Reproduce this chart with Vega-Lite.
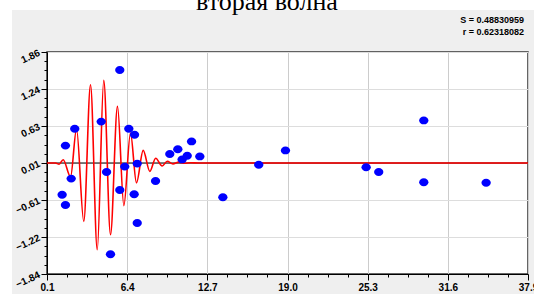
{
  "$schema": "https://vega.github.io/schema/vega-lite/v6.json",
  "width": 481,
  "height": 222,
  "autosize": {"type": "none"},
  "padding": {"left": 47, "top": 52, "right": 6, "bottom": 20},
  "background": "#efefef",
  "config": {
    "view": {"fill": "white", "stroke": "#333333", "strokeWidth": 1.5}
  },
  "resolve": {"axis": {"x": "independent", "y": "independent"}},
  "datasets": {
    "curve": [
      {"x": 0.1, "y": 0.01}, {"x": 0.77, "y": 0.01}, {"x": 1.05, "y": -0.01},
      {"x": 1.37, "y": 0.065}, {"x": 1.95, "y": -0.22}, {"x": 2.42, "y": 0.577},
      {"x": 2.99, "y": -0.963}, {"x": 3.52, "y": 1.315}, {"x": 4.05, "y": -1.435},
      {"x": 4.56, "y": 1.387}, {"x": 5.09, "y": -1.185}, {"x": 5.64, "y": 0.953},
      {"x": 6.14, "y": -0.7}, {"x": 6.66, "y": 0.51}, {"x": 7.13, "y": -0.32},
      {"x": 7.66, "y": 0.22}, {"x": 8.18, "y": -0.13}, {"x": 8.64, "y": 0.09},
      {"x": 9.15, "y": -0.04}, {"x": 9.55, "y": 0.04}, {"x": 10.0, "y": -0.005},
      {"x": 10.45, "y": 0.025}, {"x": 10.9, "y": 0.005}, {"x": 11.4, "y": 0.015},
      {"x": 12.0, "y": 0.01}, {"x": 37.9, "y": 0.01}
    ],
    "points": [
      {"x": 1.29, "y": -0.52}, {"x": 1.55, "y": -0.69}, {"x": 1.55, "y": 0.3},
      {"x": 2.0, "y": -0.25}, {"x": 2.28, "y": 0.58}, {"x": 4.36, "y": 0.7},
      {"x": 4.78, "y": -0.14}, {"x": 5.09, "y": -1.51}, {"x": 5.82, "y": 1.56},
      {"x": 5.82, "y": -0.44}, {"x": 6.21, "y": -0.05}, {"x": 6.53, "y": 0.58},
      {"x": 6.98, "y": 0.48}, {"x": 6.95, "y": -0.51}, {"x": 7.19, "y": 0.0},
      {"x": 7.19, "y": -0.99}, {"x": 8.63, "y": -0.29}, {"x": 9.75, "y": 0.16},
      {"x": 10.38, "y": 0.24}, {"x": 10.72, "y": 0.07}, {"x": 11.12, "y": 0.13},
      {"x": 11.46, "y": 0.37}, {"x": 12.11, "y": 0.12}, {"x": 13.92, "y": -0.56},
      {"x": 16.74, "y": -0.02}, {"x": 18.84, "y": 0.22}, {"x": 25.18, "y": -0.06},
      {"x": 26.17, "y": -0.14}, {"x": 29.71, "y": 0.72}, {"x": 29.71, "y": -0.31},
      {"x": 34.61, "y": -0.32}
    ],
    "stats": [
      {"label": "S = 0.48830959\nr = 0.62318082"}
    ],
    "heading": [
      {"label": "вторая волна"}
    ]
  },
  "layer": [
    {
      "data": {"values": [{}]},
      "mark": {"type": "rect", "fill": "white", "clip": false},
      "encoding": {
        "x": {"datum": -3.6, "type": "quantitative", "axis": null, "scale": {"domain": [0.1, 37.9], "nice": false, "zero": false}},
        "x2": {"datum": 38.4},
        "y": {"datum": 2.7267, "type": "quantitative", "axis": null, "scale": {"domain": [-1.84, 1.86], "nice": false, "zero": false}},
        "y2": {"datum": 2.56}
      }
    },
    {
      "data": {"values": [{}]},
      "mark": {"type": "rect", "fill": "white", "clip": false},
      "encoding": {
        "x": {"datum": -3.6, "type": "quantitative", "axis": null, "scale": {"domain": [0.1, 37.9], "nice": false, "zero": false}},
        "x2": {"datum": -2.65},
        "y": {"datum": 2.7267, "type": "quantitative", "axis": null, "scale": {"domain": [-1.84, 1.86], "nice": false, "zero": false}},
        "y2": {"datum": -2.2}
      }
    },
    {
      "data": {"values": [{}]},
      "mark": {"type": "rule", "color": "black", "strokeWidth": 1},
      "encoding": {
        "y": {"datum": 0.01, "type": "quantitative", "axis": null, "scale": {"domain": [-1.84, 1.86], "nice": false, "zero": false}}
      }
    },
    {
      "data": {"name": "curve"},
      "mark": {"type": "line", "color": "#ff0000", "strokeWidth": 1.6, "interpolate": "monotone"},
      "encoding": {
        "x": {
          "field": "x", "type": "quantitative",
          "scale": {"domain": [0.1, 37.9], "nice": false, "zero": false},
          "axis": {
            "orient": "bottom",
            "title": null,
            "values": [0.1, 6.4, 12.7, 19.0, 25.3, 31.6, 37.9],
            "format": ".1f",
            "domainColor": "black",
            "domainWidth": 1,
            "tickColor": "black",
            "tickWidth": 1,
            "tickSize": 6,
            "grid": true,
            "gridColor": "#cccccc",
            "gridWidth": 1,
            "labelFont": "Liberation Sans",
            "labelFontSize": 10,
            "labelFontWeight": "bold",
            "labelColor": "black",
            "labelPadding": 2,
            "labelFlush": false,
            "labelOverlap": false,
            "labelBound": false
          }
        },
        "y": {
          "field": "y", "type": "quantitative",
          "scale": {"domain": [-1.84, 1.86], "nice": false, "zero": false},
          "axis": {
            "orient": "left",
            "title": null,
            "values": [-1.84, -1.223333, -0.606667, 0.01, 0.626667, 1.243333, 1.86],
            "format": ".2f",
            "domainColor": "black",
            "domainWidth": 1,
            "tickColor": "black",
            "tickWidth": 1,
            "tickSize": 6,
            "grid": true,
            "gridColor": "#dddddd",
            "gridWidth": 1,
            "labelFont": "Liberation Sans",
            "labelFontSize": 10,
            "labelFontWeight": "bold",
            "labelColor": "black",
            "labelAngle": -25,
            "labelAlign": "right",
            "labelBaseline": "middle",
            "labelPadding": 2,
            "labelFlush": false,
            "labelOverlap": false,
            "labelBound": false
          }
        }
      }
    },
    {
      "data": {"name": "points"},
      "mark": {"type": "point", "filled": true, "color": "#0000ff", "opacity": 1, "size": 72, "shape": "M -1.1 0 A 1.1 0.93 0 1 1 1.1 0 A 1.1 0.93 0 1 1 -1.1 0 Z"},
      "encoding": {
        "x": {
          "field": "x", "type": "quantitative",
          "scale": {"domain": [0.1, 37.9], "nice": false, "zero": false},
          "axis": {
            "orient": "bottom",
            "title": null,
            "values": [1.675, 3.25, 4.825, 7.975, 9.55, 11.125, 14.275, 15.85, 17.425, 20.575, 22.15, 23.725, 26.875, 28.45, 30.025, 33.175, 34.75, 36.325],
            "labels": false,
            "domain": false,
            "grid": false,
            "tickColor": "black",
            "tickWidth": 1,
            "tickSize": 3
          }
        },
        "y": {
          "field": "y", "type": "quantitative",
          "scale": {"domain": [-1.84, 1.86], "nice": false, "zero": false},
          "axis": {
            "orient": "left",
            "title": null,
            "values": [-1.685833, -1.531667, -1.3775, -1.069167, -0.915, -0.760833, -0.4525, -0.298333, -0.144167, 0.164167, 0.318333, 0.4725, 0.780833, 0.935, 1.089167, 1.3975, 1.551667, 1.705833],
            "labels": false,
            "domain": false,
            "grid": false,
            "tickColor": "black",
            "tickWidth": 1,
            "tickSize": 3
          }
        }
      }
    },
    {
      "data": {"name": "stats"},
      "mark": {"type": "text", "align": "right", "baseline": "top", "font": "Liberation Sans", "fontSize": 9, "fontWeight": "bold", "color": "black", "lineBreak": "\n", "lineHeight": 12, "clip": false},
      "encoding": {
        "text": {"field": "label", "type": "nominal"},
        "x": {"datum": 37.586, "type": "quantitative", "axis": null, "scale": {"domain": [0.1, 37.9], "nice": false, "zero": false}},
        "y": {"datum": 2.468, "type": "quantitative", "axis": null, "scale": {"domain": [-1.84, 1.86], "nice": false, "zero": false}}
      }
    },
    {
      "data": {"name": "heading"},
      "mark": {"type": "text", "align": "center", "baseline": "alphabetic", "font": "Liberation Serif", "fontSize": 26, "color": "black", "clip": false},
      "encoding": {
        "text": {"field": "label", "type": "nominal"},
        "x": {"datum": 17.389, "type": "quantitative", "axis": null, "scale": {"domain": [0.1, 37.9], "nice": false, "zero": false}},
        "y": {"datum": 2.568, "type": "quantitative", "axis": null, "scale": {"domain": [-1.84, 1.86], "nice": false, "zero": false}}
      }
    }
  ]
}
